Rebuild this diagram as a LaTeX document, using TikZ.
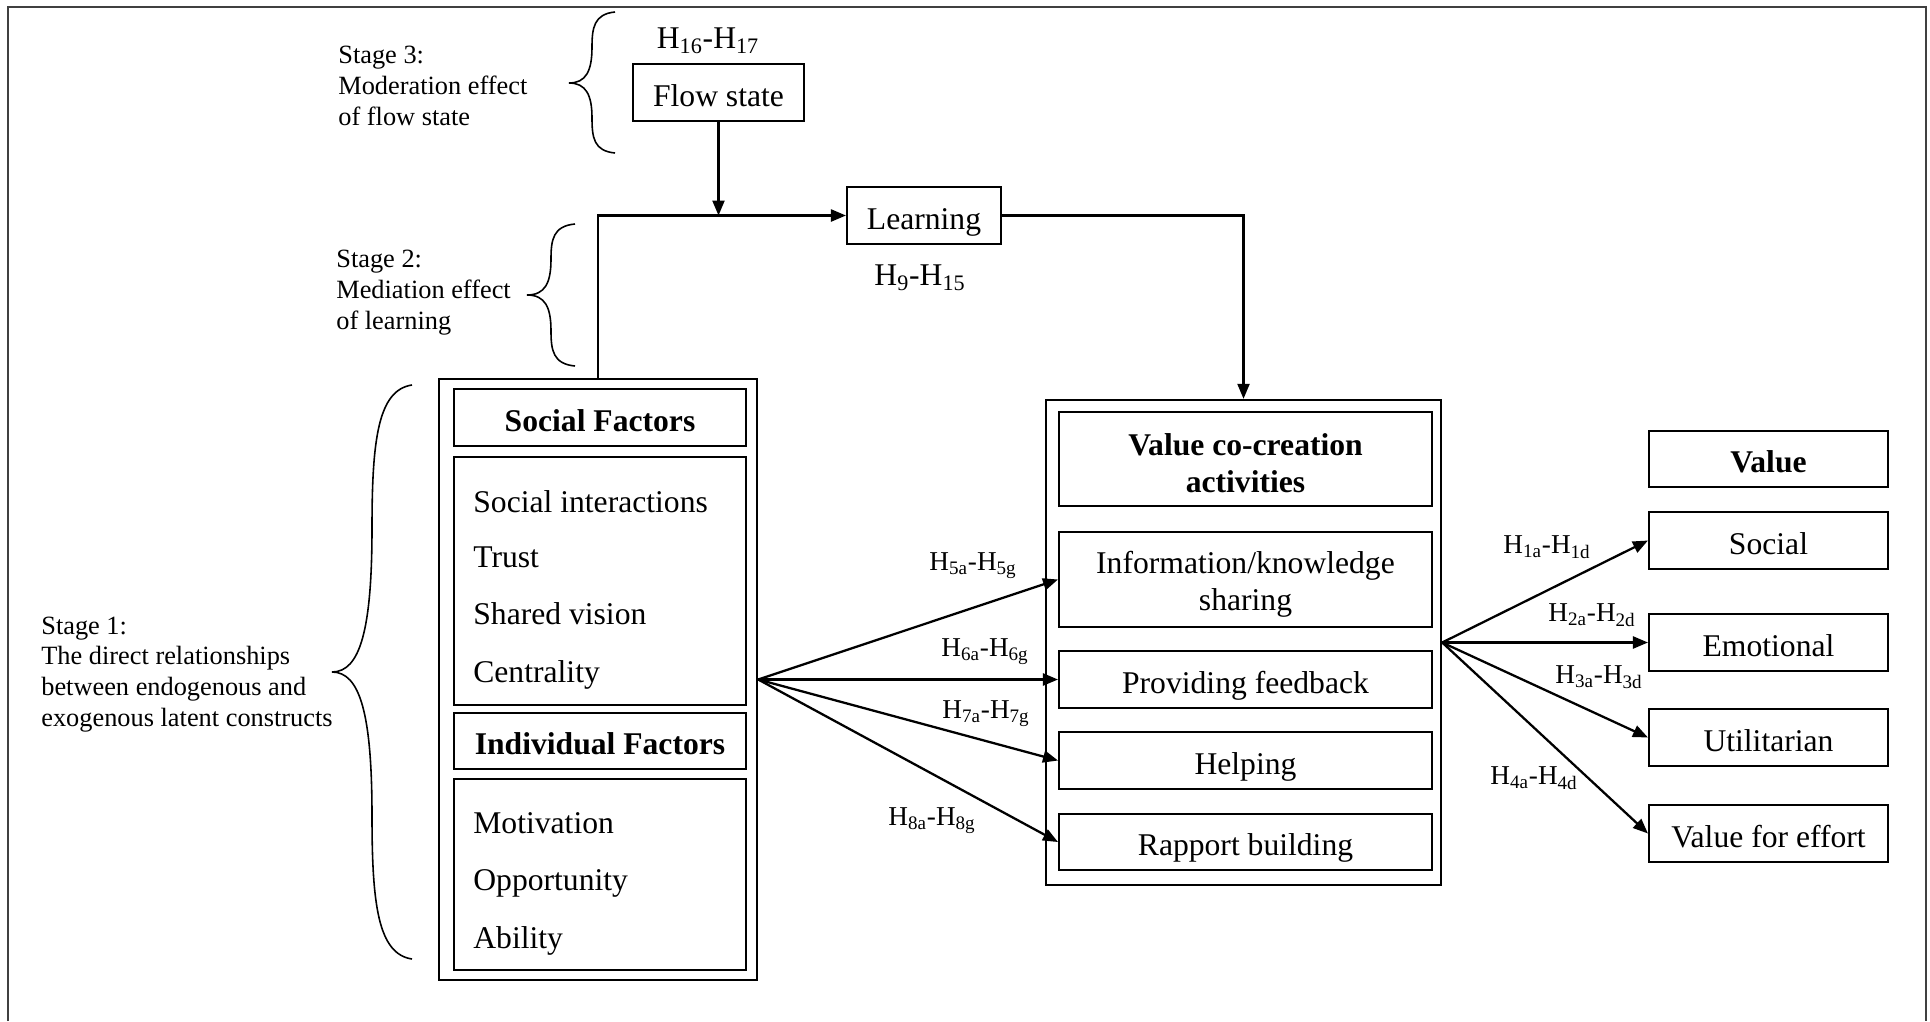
\documentclass[tikz,border=0pt]{standalone}
\usepackage{fontspec}
\setmainfont{Liberation Serif}
\usetikzlibrary{arrows.meta}
\newcommand\mainfs{\fontsize{18}{21}\selectfont}
\newcommand\stagefs{\fontsize{15}{17.6}\selectfont}
\newcommand\hfs{\fontsize{15.5}{18}\selectfont}
\newcommand\hbig{\fontsize{18}{21}\selectfont}
\begin{document}
\begin{tikzpicture}[x=0.02cm,y=-0.02cm,
  plainbox/.style={draw, line width=1.2pt, inner sep=0pt, align=center, font=\mainfs},
  box/.style={plainbox, text height=15.5pt, text depth=0pt},
  bbox/.style={box, font=\mainfs\bfseries},
  multibox/.style={plainbox, label={[font=\mainfs#1, align=center, yshift=-0.09cm]center:{\phantom{x}}}},
  outerbox/.style={draw, line width=1.4pt, inner sep=0pt},
  itemtxt/.style={anchor=west, inner sep=0pt, font=\mainfs, text height=13pt, text depth=0pt},
  multitxt/.style={inner sep=0pt, align=center, font=\mainfs},
  stagetxt/.style={anchor=west, inner sep=0pt, align=left, font=\stagefs},
  hlab/.style={inner sep=0pt, font=\hfs},
  hlabbig/.style={inner sep=0pt, font=\hbig},
  conn/.style={line width=1.3pt},
  arr/.style={conn, -{Triangle[length=0.3cm,width=0.24cm]}},
  bracestyle/.style={line width=0.9pt},
  framestyle/.style={draw=black!75, line width=1.1pt}]
\useasboundingbox (0,0) rectangle (1930,1021);
% frame
\draw[framestyle] (8,1021) -- (8,7) -- (1926,7) -- (1926,1021);

% top part
\node[box, minimum width=3.42cm, minimum height=1.14cm] (flow) at (718.5,92.5) {Flow state};
\node[hlabbig] (h16) at (708,41) {H\textsubscript{16}-H\textsubscript{17}};
\node[box, minimum width=3.08cm, minimum height=1.14cm] (learn) at (924,215.5) {Learning};
\node[hlabbig] (h9) at (920,278) {H\textsubscript{9}-H\textsubscript{15}};

% left column
\node[outerbox, minimum width=6.36cm, minimum height=12.02cm] (sfouter) at (598,679.5) {};
\node[bbox, minimum width=5.84cm, minimum height=1.14cm] (sfhead) at (600,417.5) {Social Factors};
\node[plainbox, minimum width=5.84cm, minimum height=4.96cm] (sfitems) at (600,581) {};
\node[bbox, minimum width=5.84cm, minimum height=1.12cm] (ifhead) at (600,741) {Individual Factors};
\node[plainbox, minimum width=5.84cm, minimum height=3.82cm] (ifitems) at (600,874.5) {};
\node[itemtxt] (si) at (473,501) {Social interactions};
\node[itemtxt] (tr) at (473,556) {Trust};
\node[itemtxt] (sv) at (473,613) {Shared vision};
\node[itemtxt] (ce) at (473,671) {Centrality};
\node[itemtxt] (mo) at (473,822) {Motivation};
\node[itemtxt] (op) at (473,879) {Opportunity};
\node[itemtxt] (ab) at (473,937) {Ability};

% middle column
\node[outerbox, minimum width=7.9cm, minimum height=9.7cm] (vccouter) at (1243.5,642.5) {};
\node[plainbox, minimum width=7.46cm, minimum height=1.88cm] (vcchead) at (1245.5,459) {};
\node[multitxt, font=\mainfs\bfseries] (vcchtxt) at (1245.5,463.5) {Value co-creation\\activities};
\node[plainbox, minimum width=7.46cm, minimum height=1.9cm] (info) at (1245.5,579.5) {};
\node[multitxt] (infotxt) at (1245.5,584) {Information/knowledge\\sharing};
\node[box, minimum width=7.46cm, minimum height=1.14cm] (feed) at (1245.5,679.5) {Providing feedback};
\node[box, minimum width=7.46cm, minimum height=1.14cm] (help) at (1245.5,760.5) {Helping};
\node[box, minimum width=7.46cm, minimum height=1.12cm] (rapp) at (1245.5,842) {Rapport building};

% right column
\node[bbox, minimum width=4.78cm, minimum height=1.12cm] (valhead) at (1768.5,459) {Value};
\node[box, minimum width=4.78cm, minimum height=1.14cm] (vsoc) at (1768.5,540.5) {Social};
\node[box, minimum width=4.78cm, minimum height=1.14cm] (vemo) at (1768.5,642.5) {Emotional};
\node[box, minimum width=4.78cm, minimum height=1.14cm] (vuti) at (1768.5,737.5) {Utilitarian};
\node[box, minimum width=4.78cm, minimum height=1.14cm] (veff) at (1768.5,833.5) {Value for effort};

% connectors top
\draw[arr] (sfouter.north) |- (learn.west);
\draw[arr] (flow.south) -- (flow.south |- learn.west);
\draw[arr] (learn.east) -| (vccouter.north);

% connectors middle
\draw[arr] (sfouter.east) -- (info.west);
\draw[arr] (sfouter.east) -- (feed.west);
\draw[arr] (sfouter.east) -- (help.west);
\draw[arr] (sfouter.east) -- (rapp.west);
\node[hlab] (h5) at (973,566) {H\textsubscript{5a}-H\textsubscript{5g}};
\node[hlab] (h6) at (985,652) {H\textsubscript{6a}-H\textsubscript{6g}};
\node[hlab] (h7) at (986,714) {H\textsubscript{7a}-H\textsubscript{7g}};
\node[hlab] (h8) at (932,821) {H\textsubscript{8a}-H\textsubscript{8g}};

% connectors right
\draw[arr] (vccouter.east) -- (vsoc.west);
\draw[arr] (vccouter.east) -- (vemo.west);
\draw[arr] (vccouter.east) -- (vuti.west);
\draw[arr] (vccouter.east) -- (veff.west);
\node[hlab] (h1) at (1547,547) {H\textsubscript{1a}-H\textsubscript{1d}};
\node[hlab] (h2) at (1592,615) {H\textsubscript{2a}-H\textsubscript{2d}};
\node[hlab] (h3) at (1599,677) {H\textsubscript{3a}-H\textsubscript{3d}};
\node[hlab] (h4) at (1534,778) {H\textsubscript{4a}-H\textsubscript{4d}};

% stage texts
\node[stagetxt] (st3) at (338,85.5) {Stage 3:\\Moderation effect\\of flow state};
\node[stagetxt] (st2) at (336,292.5) {Stage 2:\\Mediation effect\\of learning};
\node[stagetxt] (st1) at (41,674.5) {Stage 1:\\The direct relationships\\between endogenous and\\exogenous latent constructs};

% braces
\draw[bracestyle] (615,12) .. controls (594,14) and (592,28) .. (592,47)
  .. controls (592,71) and (586,83) .. (569,83)
  .. controls (586,83) and (592,95) .. (592,118)
  .. controls (592,138) and (594,151) .. (615,153);
\draw[bracestyle] (575,224) .. controls (553,226) and (551,240) .. (551,259)
  .. controls (551,283) and (545,295) .. (527,295)
  .. controls (545,295) and (551,307) .. (551,331)
  .. controls (551,350) and (553,364) .. (575,366);
\draw[bracestyle] (412,385) .. controls (378,390) and (372,440) .. (372,528)
  .. controls (372,630) and (360,672) .. (332,672)
  .. controls (360,672) and (372,714) .. (372,816)
  .. controls (372,904) and (378,954) .. (412,959);
\end{tikzpicture}
\end{document}
